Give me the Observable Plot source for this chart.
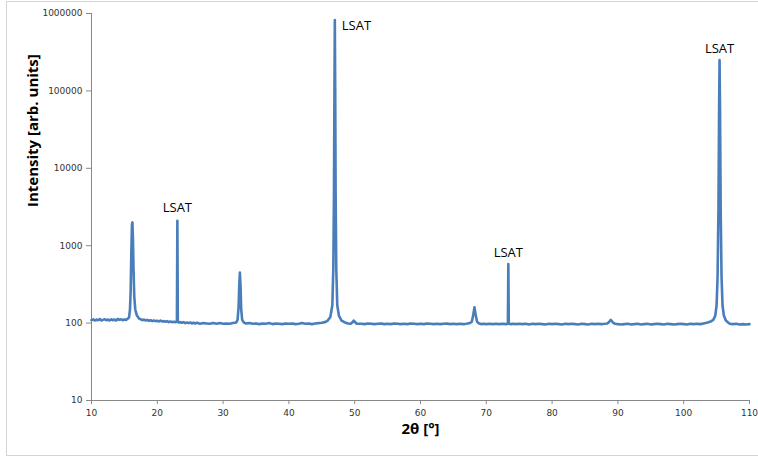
<!DOCTYPE html>
<html>
<head>
<meta charset="utf-8">
<script src="https://cdn.jsdelivr.net/npm/d3@7"></script>
<script src="https://cdn.jsdelivr.net/npm/@observablehq/plot@0.6"></script>
<style>
  html, body { margin: 0; padding: 0; background: #fff; }
  #wrap { position: relative; width: 758px; height: 456px; overflow: hidden; }
  #frame { position: absolute; left: 6px; top: 1px; width: 760px; height: 453px; border: 1px solid #d4d4d4; pointer-events: none; }
</style>
</head>
<body>
<div id="wrap"><div id="frame"></div></div>
<script>
// 2θ (deg), intensity (arb. units)
const baseline = [
  [10,109],[10.25,112],[10.5,108],[10.75,111],[11,109],[11.25,113],[11.5,108],[11.75,110],[12,112],[12.25,109],
  [12.5,111],[12.75,108],[13,112],[13.25,109],[13.5,111],[13.75,108],[14,113],[14.25,110],[14.5,112],[14.75,109],
  [15,111],[15.25,110],[15.5,114],
  [17.5,112],[17.75,109],[18,111],[18.25,108],[18.5,110],[18.75,107],[19,109],[19.25,106],[19.5,108],[19.75,106],
  [20,107],[20.25,105],[20.5,108],[20.75,105],[21,106],[21.25,104],[21.5,106],[21.75,103],[22,105],[22.25,103],[22.5,104],[22.75,103],
  [23.5,103],[23.75,101],[24,103],[24.25,100],[24.5,102],[24.75,100],[25,102],[25.25,99],[25.5,101],[25.75,99],
  [26,101],[26.5,98],[27,100],[27.5,99],[28,98],[28.5,100],[29,98],[29.5,100],[30,98],[30.5,99],[31,98],[31.5,100],[32,102],
  [33.4,99],[34,100],[34.5,98],[35,99],[35.5,97],[36,99],[36.5,98],[37,100],[37.5,97],[38,99],[38.5,98],[39,97],
  [39.5,99],[40,98],[40.5,99],[41,97],[41.5,98],[42,100],[42.5,98],[43,99],[43.5,97],[44,99],[44.5,100],[45,101],[45.5,103],
  [49,99],[49.4,98],
  [50.6,98],[51,98],[51.5,97],[52,99],[52.5,98],[53,97],[53.5,98],[54,99],[54.5,97],[55,98],[55.5,97],[56,99],[56.5,98],
  [57,97],[57.5,98],[58,97],[58.5,99],[59,98],[59.5,97],[60,98],[60.5,97],[61,99],[61.5,98],[62,97],[62.5,98],[63,97],
  [63.5,98],[64,99],[64.5,97],[65,98],[65.5,97],[66,98],[66.5,97],[67,98],[67.5,100],
  [69.3,97],[69.5,98],[70,97],[70.5,98],[71,97],[71.5,98],[72,97],[72.5,98],[73,97],
  [73.8,97],[74,98],[74.5,97],[75,98],[75.5,97],[76,98],[76.5,96],[77,98],[77.5,97],[78,98],[78.5,97],[79,96],[79.5,98],
  [80,97],[80.5,98],[81,97],[81.5,96],[82,98],[82.5,97],[83,98],[83.5,97],[84,96],[84.5,98],[85,97],[85.5,96],[86,98],
  [86.5,97],[87,98],[87.5,97],[88,98],[88.4,99],
  [90,97],[90.5,96],[91,97],[91.5,98],[92,96],[92.5,97],[93,98],[93.5,96],[94,97],[94.5,98],[95,96],[95.5,97],[96,98],
  [96.5,97],[97,96],[97.5,98],[98,97],[98.5,96],[99,97],[99.5,98],[100,97],[100.5,96],[101,98],[101.5,97],[102,98],
  [102.5,97],[103,99],[103.5,101],[104,104],
  [107,98],[107.5,97],[108,98],[108.5,96],[109,97],[109.5,96],[110,97]
];
const peaks = [
  // ~16.2
  [15.7,118],[15.85,150],[15.95,260],[16.05,800],[16.15,1900],[16.22,2000],[16.3,1200],[16.4,450],[16.5,220],[16.65,150],[16.9,125],[17.25,114],
  // LSAT 23.05
  [22.98,104],[23.05,2100],[23.12,104],[23.25,102],
  // ~32.55
  [32.2,110],[32.35,160],[32.45,300],[32.55,450],[32.65,300],[32.75,150],[32.9,110],[33.1,103],
  // LSAT ~47
  [45.9,108],[46.3,120],[46.6,170],[46.75,500],[46.85,5000],[46.92,100000],[46.98,820000],[47.04,100000],[47.1,5000],
  [47.2,500],[47.35,170],[47.6,125],[48,108],[48.5,102],
  // ~49.9
  [49.7,103],[49.85,108],[50.0,104],[50.3,98],
  // ~68.2
  [67.8,104],[68.0,125],[68.2,160],[68.4,125],[68.6,104],[68.9,99],
  // LSAT ~73.35
  [73.28,98],[73.35,580],[73.42,98],
  // ~88.9
  [88.7,104],[88.9,110],[89.1,106],[89.3,100],[89.6,98],
  // LSAT ~105.45
  [104.5,110],[104.8,125],[105.0,170],[105.15,400],[105.28,3000],[105.38,60000],[105.45,250000],[105.52,60000],
  [105.62,3000],[105.75,400],[105.9,170],[106.1,125],[106.4,108],[106.8,101]
];
// peak labels placed above their peaks
const labelLow = [{x: 23.05, y: 2100, text: "LSAT"}];
const labelsAbove = [
  {x: 73.35, y: 580, text: "LSAT"},
  {x: 105.45, y: 250000, text: "LSAT"}
];
// peak label placed to the right of its peak
const labelsRight = [{x: 46.98, y: 820000, text: "LSAT"}];
const yTicks = [10, 100, 1000, 10000, 100000, 1000000];
const xTicks = [10, 20, 30, 40, 50, 60, 70, 80, 90, 100, 110];

const scan = baseline.concat(peaks).sort((a, b) => a[0] - b[0]);
const axisColor = "#888888";
const tickFont = "DejaVu Sans, sans-serif";
const labelFont = "Open Sans";
const lsatStyle = {x: "x", y: "y", text: "text", fontSize: 13, fontFamily: labelFont, fill: "#000"};

const chart = Plot.plot({
  width: 758,
  height: 456,
  marginLeft: 91,
  marginRight: 9,
  marginTop: 13,
  marginBottom: 56,
  style: {background: "transparent", fontFamily: tickFont},
  x: {domain: [10, 110]},
  y: {type: "log", domain: [10, 1000000]},
  marks: [
    Plot.ruleX([10], {stroke: axisColor, strokeWidth: 1}),
    Plot.ruleY([10], {stroke: axisColor, strokeWidth: 1}),
    Plot.axisY({ticks: yTicks, tickFormat: d => String(d), tickSize: 5, tickPadding: 4, fontSize: 9,
      stroke: axisColor, color: "#333", label: null}),
    Plot.axisX({ticks: xTicks, tickFormat: d => String(d), tickSize: 4, tickPadding: 5, fontSize: 9,
      stroke: axisColor, color: "#333", label: null}),
    Plot.line(scan, {x: d => d[0], y: d => d[1], stroke: "#4a7ebb", strokeWidth: 2.6, strokeLinejoin: "round"}),
    Plot.text(labelLow, {...lsatStyle, textAnchor: "middle", dy: -13}),
    Plot.text(labelsAbove, {...lsatStyle, textAnchor: "middle", dy: -11}),
    Plot.text(labelsRight, {...lsatStyle, textAnchor: "start", dx: 7, dy: 6}),
    Plot.text(["Intensity [arb. units]"], {frameAnchor: "left", rotate: -90, dx: -58, fontSize: 15,
      fontWeight: "bold", fontFamily: labelFont, fill: "#000"}),
    Plot.text(["2θ [°]"], {frameAnchor: "bottom", dy: 33, fontSize: 15, fontWeight: "bold",
      fontFamily: labelFont, fill: "#000"})
  ]
});
document.getElementById("wrap").prepend(chart);
</script>
</body>
</html>
